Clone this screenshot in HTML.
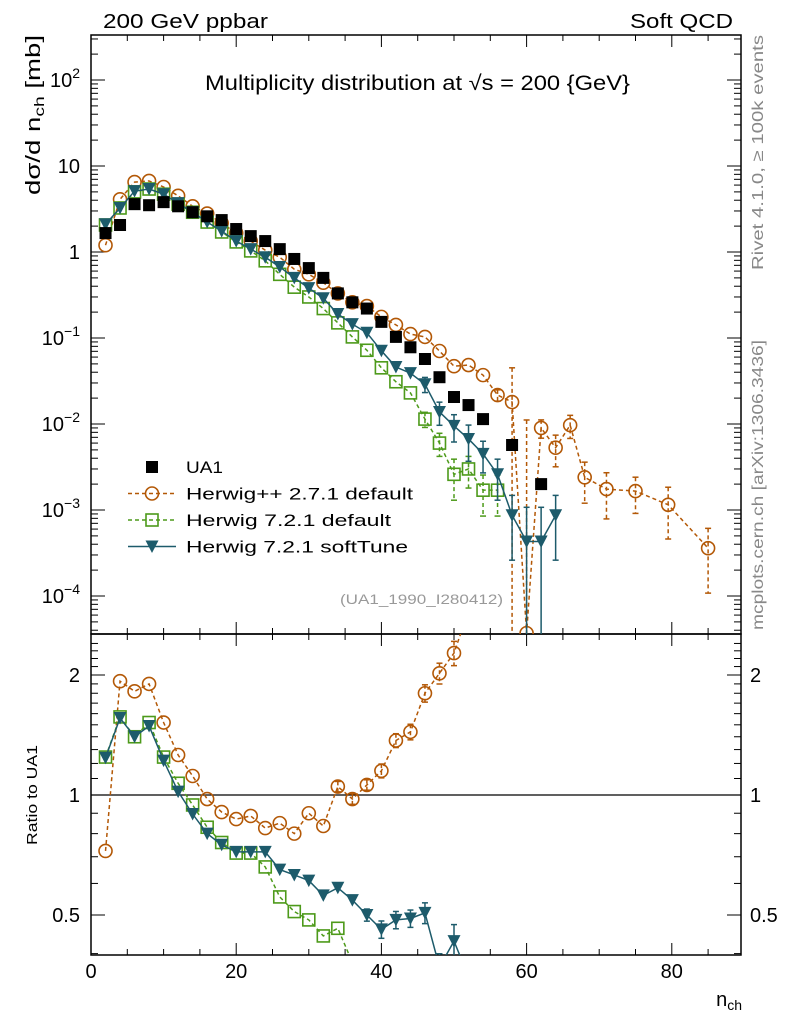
<!DOCTYPE html>
<html><head><meta charset="utf-8">
<style>
body{margin:0;background:#fff;}
svg{display:block;font-family:"Liberation Sans","DejaVu Sans",sans-serif;}
</style></head>
<body>
<svg id="chart" width="786" height="1024" viewBox="0 0 786 1024">
<defs>
<clipPath id="cm"><rect x="91" y="35" width="650" height="599"/></clipPath>
<clipPath id="cr"><rect x="91" y="634" width="650" height="321"/></clipPath>
</defs>
<g id="axes"></g>
<g id="marks"></g>
<text x="103" y="28" font-size="20" textLength="165" lengthAdjust="spacingAndGlyphs">200 GeV ppbar</text>
<text x="630" y="28" font-size="20" textLength="103" lengthAdjust="spacingAndGlyphs">Soft QCD</text>
<text x="205" y="90" font-size="21" textLength="425" lengthAdjust="spacingAndGlyphs">Multiplicity distribution at √s = 200 {GeV}</text>
<text transform="translate(40,195) rotate(-90)" font-size="20" textLength="160" lengthAdjust="spacingAndGlyphs">dσ/d n<tspan font-size="14" dy="4">ch</tspan><tspan dy="-4"> [mb]</tspan></text>
<text transform="translate(763,270) rotate(-90)" font-size="16" fill="#888" textLength="235" lengthAdjust="spacingAndGlyphs">Rivet 4.1.0, ≥ 100k events</text>
<text transform="translate(763,630) rotate(-90)" font-size="16" fill="#888" textLength="290" lengthAdjust="spacingAndGlyphs">mcplots.cern.ch [arXiv:1306.3436]</text>
<text x="340" y="604" font-size="14" fill="#999" textLength="163" lengthAdjust="spacingAndGlyphs">(UA1_1990_I280412)</text>
<text transform="translate(37,845) rotate(-90)" font-size="15" textLength="100" lengthAdjust="spacingAndGlyphs">Ratio to UA1</text>
<text x="742" y="1006" font-size="20" text-anchor="end">n<tspan font-size="14" dy="4">ch</tspan></text>
<g id="legend"></g>
</svg>
<script>
// ---- data ----
const uaN = [2,4,6,8,10,12,14,16,18,20,22,24,26,28,30,32,34,36,38,40,42,44,46,48,50,52,54,58,62];
const uaV = [1.66,2.06,3.6,3.5,3.8,3.4,2.9,2.6,2.35,1.85,1.53,1.34,1.08,0.83,0.65,0.50,0.33,0.26,0.22,0.154,0.103,0.078,0.057,0.035,0.0206,0.0166,0.0114,0.0057,0.002];

const hppN = [2,4,6,8,10,12,14,16,18,20,22,24,26,28,30,32,34,36,38,40,42,44,46,48,50,52,54,56,58,60,62,64,66,68,71,75,79.5,85];
const hppV = [1.2,4.1,6.5,6.7,5.7,4.5,3.4,2.8,2.17,1.66,1.34,1.05,0.87,0.63,0.55,0.44,0.33,0.26,0.235,0.176,0.142,0.111,0.103,0.0706,0.047,0.0485,0.037,0.0217,0.018,0.000037,0.009,0.0053,0.0097,0.0024,0.00175,0.00166,0.00115,0.00036];
const hppE = [0.03,0.03,0.03,0.03,0.03,0.03,0.03,0.03,0.03,0.03,0.03,0.03,0.03,0.03,0.03,0.03,0.05,0.05,0.05,0.06,0.08,0.08,0.08,0.1,0.1,0.1,0.12,0.15,1.5,300,0.24,0.4,0.3,0.5,0.55,0.45,0.6,0.7];

const h72N = [2,4,6,8,10,12,14,16,18,20,22,24,26,28,30,32,34,36,38,40,42,44,46,48,50,52,54,56];
const h72V = [2.06,3.25,5.0,5.4,4.7,3.6,2.9,2.23,1.71,1.31,1.03,0.79,0.55,0.39,0.30,0.22,0.15,0.103,0.072,0.045,0.031,0.023,0.0114,0.006,0.0026,0.003,0.0017,0.0017];
const h72E = [0.02,0.02,0.02,0.02,0.02,0.02,0.02,0.02,0.02,0.02,0.02,0.02,0.03,0.03,0.04,0.05,0.06,0.07,0.08,0.09,0.1,0.12,0.2,0.3,0.5,0.4,0.5,0.5];

const stN = [2,4,6,8,10,12,14,16,18,20,22,24,26,28,30,32,34,36,38,40,42,44,46,48,50,52,54,56,58,60,62,64];
const stV = [2.1,3.25,5.1,5.4,4.7,3.7,2.9,2.23,1.75,1.34,1.08,0.87,0.67,0.5,0.38,0.29,0.19,0.145,0.115,0.071,0.046,0.039,0.029,0.0138,0.0095,0.0067,0.0045,0.0026,0.00087,0.00043,0.00043,0.00087];
const stE = [0.02,0.02,0.02,0.02,0.02,0.02,0.02,0.02,0.02,0.02,0.02,0.02,0.03,0.03,0.04,0.05,0.06,0.07,0.08,0.09,0.1,0.12,0.2,0.3,0.35,0.45,0.4,0.5,0.7,1.5,1.5,0.7];

const rN = [2,4,6,8,10,12,14,16,18,20,22,24,26,28,30,32,34,36,38,40,42,44,46,48,50,52];
const rHpp = [0.724,1.93,1.82,1.90,1.52,1.26,1.116,0.977,0.906,0.87,0.886,0.826,0.85,0.80,0.90,0.836,1.05,0.977,1.06,1.15,1.37,1.44,1.80,2.02,2.27,2.9];
const rHppE = [0.01,0.01,0.01,0.01,0.01,0.01,0.01,0.01,0.01,0.01,0.01,0.015,0.015,0.02,0.02,0.025,0.03,0.03,0.03,0.04,0.04,0.045,0.05,0.06,0.07,0.1];
const rH72N = [2,4,6,8,10,12,14,16,18,20,22,24,26,28,30,32,34,36];
const rH72 = [1.245,1.57,1.40,1.52,1.245,1.07,0.944,0.83,0.76,0.715,0.715,0.66,0.555,0.51,0.486,0.443,0.463,0.38];
const rH72E = [0.01,0.01,0.01,0.01,0.01,0.01,0.01,0.01,0.01,0.01,0.01,0.01,0.01,0.015,0.015,0.02,0.025,0.03];
const rSt = [1.24,1.56,1.40,1.49,1.22,1.02,0.896,0.80,0.75,0.72,0.72,0.72,0.65,0.63,0.61,0.56,0.585,0.545,0.50,0.46,0.486,0.49,0.506,0.37,0.43,0.35];
const rStE = [0.01,0.01,0.01,0.01,0.01,0.01,0.01,0.01,0.01,0.01,0.01,0.01,0.015,0.015,0.02,0.02,0.025,0.025,0.035,0.05,0.05,0.05,0.06,0.08,0.1,0.1];

const xTicks = [0,20,40,60,80];
const mainTickExp = [2,1,0,-1,-2,-3,-4];
const ratioTicks = [0.5,1,2];

// ---- axes functions ----
const X0=91,XMAX=(741-91)/7.26;
function xs(n){return X0+n*7.26;}
function ys(v){return 252-86*Math.log10(v);}
function yr(r){return 795-398.6*Math.log10(r);}
const NS='http://www.w3.org/2000/svg';
function mk(tag,attrs,parent){const e=document.createElementNS(NS,tag);for(const k in attrs)e.setAttribute(k,attrs[k]);parent.appendChild(e);return e;}
const axes=document.getElementById('axes');
const marks=document.getElementById('marks');

let f1=mk('rect',{x:91,y:35,width:650,height:599,fill:'none',stroke:'#000','stroke-width':1.5},axes);


let f2=mk('rect',{x:91,y:634,width:650,height:321,fill:'none',stroke:'#000','stroke-width':1.5},axes);



for(let n=0;n<=XMAX;n+=5){
  const major=(n%20===0), L=major?12:6, x=xs(n);
  [[35,1],[634,-1],[634,1],[955,-1]].forEach(([y,d])=>{
    let t=mk('line',{x1:x,x2:x,y1:y,y2:y+d*L,stroke:'#000','stroke-width':1},axes);
    
    
  });
}
xTicks.forEach(v=>{
  let t=mk('text',{x:xs(v),y:978,'font-size':20,'text-anchor':'middle'},axes);t.textContent=v;
  
  
});
for(let e=-5;e<=2;e++){
  for(let m=1;m<10;m++){
    const y=ys(m*Math.pow(10,e)); if(y<35||y>634) continue;
    const L=m===1?14:7;
    [[91,1],[741,-1]].forEach(([x,d])=>{
      let t=mk('line',{x1:x,x2:x+d*L,y1:y,y2:y,stroke:'#000','stroke-width':1},axes);
      
      
    });
  }
}
mainTickExp.forEach(e=>{
  const y=ys(Math.pow(10,e));
  let t=mk('text',{x:80,y:y+7,'font-size':20,'text-anchor':'end'},axes);
  if(e===0) t.textContent='1'; else if(e===1) t.textContent='10';
  else {t.textContent='10';let s=mk('tspan',{dy:-9,'font-size':14},t);s.textContent=(e<0?'−':'')+Math.abs(e);}
  
  
});
[0.4,0.5,0.6,0.7,0.8,0.9,1,2].forEach(r=>{
  const y=yr(r); const L=(r===0.5||r===1||r===2)?14:7;
  [[91,1],[741,-1]].forEach(([x,d])=>{
    let t=mk('line',{x1:x,x2:x+d*L,y1:y,y2:y,stroke:'#000','stroke-width':1},axes);
    
    
  });
});
for(let k=1.1;k<2.5;k+=0.1){const y=yr(k);if(y<634||y>955)continue;[[91,1],[741,-1]].forEach(([x,d])=>{let t=mk('line',{x1:x,x2:x+d*7,y1:y,y2:y,stroke:'#000','stroke-width':1},axes);});}
ratioTicks.forEach(r=>{
  [[80,'end'],[750,'start']].forEach(([x,a])=>{
    let t=mk('text',{x:x,y:yr(r)+7,'font-size':20,'text-anchor':a},axes);t.textContent=r;
    
    
  });
});
let one=mk('line',{x1:91,x2:741,y1:yr(1),y2:yr(1),stroke:'#000','stroke-width':1.2},axes);



const ORG='#b35806', GRN='#4d9a1a', TEAL='#1d5b6b';
function marker(g,type,x,y,col){
  if(type==='sq'){mk('rect',{x:x-6,y:y-6,width:12,height:12,fill:'#000'},g);}
  else if(type==='circ'){mk('circle',{cx:x,cy:y,r:6.5,fill:'none',stroke:col,'stroke-width':1.6},g);}
  else if(type==='osq'){mk('rect',{x:x-6,y:y-6,width:12,height:12,fill:'none',stroke:col,'stroke-width':1.6},g);}
  else if(type==='tri'){mk('path',{d:`M${x-6.5},${y-6}L${x+6.5},${y-6}L${x},${y+6.5}Z`,fill:col},g);}
}
function series(name,N,V,E,fx,fy,bottom,type,col,dash,clip,lineOn){
  const g=mk('g',{'clip-path':`url(#${clip})`},marks);
  
  
  if(lineOn){
    const pts=N.map((n,i)=>`${fx(n)},${fy(V[i])}`).join(' ');
    mk('polyline',{points:pts,fill:'none',stroke:col,'stroke-width':1.5,'stroke-dasharray':dash||'none'},g);
  }
  if(E) N.forEach((n,i)=>{
    const x=fx(n), lo=V[i]*(1-E[i]), hi=V[i]*(1+E[i]);
    const y1=fy(hi), y2=lo>0?fy(lo):bottom+20;
    if(Math.abs(y2-y1)<10) return;
    mk('line',{x1:x,x2:x,y1:y1,y2:y2,stroke:col,'stroke-width':1.5,'stroke-dasharray':dash||'none'},g);
    mk('line',{x1:x-3,x2:x+3,y1:y1,y2:y1,stroke:col,'stroke-width':1.5},g);
    if(lo>0) mk('line',{x1:x-3,x2:x+3,y1:y2,y2:y2,stroke:col,'stroke-width':1.5},g);
  });
  N.forEach((n,i)=>marker(g,type,fx(n),fy(V[i]),col));
}
series('herwigpp-271-default',hppN,hppV,hppE,xs,ys,634,'circ',ORG,'4,3','cm',true);
series('herwig-721-default',h72N,h72V,h72E,xs,ys,634,'osq',GRN,'4,3','cm',true);
series('herwig-721-softtune',stN,stV,stE,xs,ys,634,'tri',TEAL,null,'cm',true);
series('ua1-data',uaN,uaV,null,xs,ys,634,'sq','#000',null,'cm',false);
series('ratio-herwigpp-271',rN,rHpp,rHppE,xs,yr,955,'circ',ORG,'4,3','cr',true);
series('ratio-herwig-721-default',rH72N,rH72,rH72E,xs,yr,955,'osq',GRN,'4,3','cr',true);
series('ratio-herwig-721-softtune',rN,rSt,rStE,xs,yr,955,'tri',TEAL,null,'cr',true);

const leg=document.getElementById('legend');
const items=[['UA1','sq','#000',null,false,37],['Herwig++ 2.7.1 default','circ',ORG,'4,3',true,227],['Herwig 7.2.1 default','osq',GRN,'4,3',true,205],['Herwig 7.2.1 softTune','tri',TEAL,null,true,222]];
items.forEach((it,i)=>{
  const y=467+i*26.5;
  const g=mk('g',{},leg);
  
  
  if(it[4]) mk('line',{x1:128,x2:176,y1:y,y2:y,stroke:it[2],'stroke-width':1.5,'stroke-dasharray':it[3]||'none'},g);
  marker(g,it[1],152,y,it[2]);
  const t=mk('text',{x:186,y:y+6,'font-size':17,textLength:it[5],lengthAdjust:'spacingAndGlyphs'},g);t.textContent=it[0];
});
</script>
</body></html>
